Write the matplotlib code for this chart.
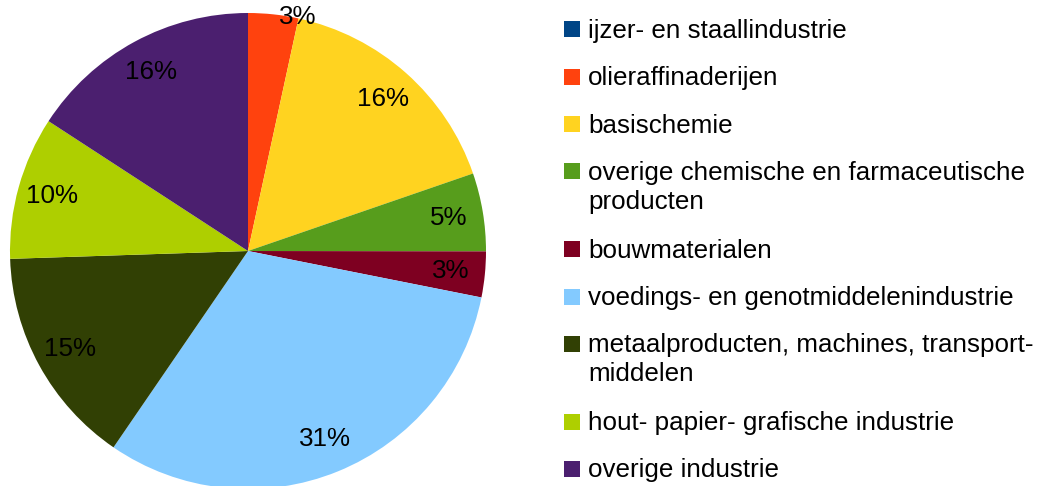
import matplotlib.pyplot as plt
from matplotlib.patches import Rectangle

plt.rcParams['font.family'] = ['Liberation Sans', 'DejaVu Sans']

# data
categorieen = [
    "ijzer- en staallindustrie",
    "olieraffinaderijen",
    "basischemie",
    "overige chemische en farmaceutische\nproducten",
    "bouwmaterialen",
    "voedings- en genotmiddelenindustrie",
    "metaalproducten, machines, transport-\nmiddelen",
    "hout- papier- grafische industrie",
    "overige industrie",
]
aandeel = [0, 3.4, 16.3, 5.3, 3.1, 31.4, 14.9, 9.7, 15.8]
kleuren = ["#004586", "#ff420e", "#ffd320", "#579d1c", "#7e0021",
           "#83caff", "#314004", "#aecf00", "#4b1f6f"]

W, H = 1039, 486
fig = plt.figure(figsize=(W / 100, H / 100), dpi=100)

# taart: middelpunt (248, 251) px, straal 238 px
cx, cy, r = 248, 251, 238
ax = fig.add_axes([(cx - r) / W, (H - cy - r) / H, 2 * r / W, 2 * r / H])
wedges, texts, autotexts = ax.pie(
    aandeel, colors=kleuren, startangle=90, counterclock=False,
    radius=1, pctdistance=0.855,
    autopct=lambda p: f"{p:.0f}%" if p > 0.5 else "",
    wedgeprops=dict(linewidth=0, edgecolor="none"),
    textprops=dict(fontsize=18.7, color="black"),
)
ax.set_xlim(-1, 1)
ax.set_ylim(-1, 1)
# label van olieraffinaderijen staat buiten tegen de rand
autotexts[1].set_position((0.21, 0.985))

# legenda handmatig
lax = fig.add_axes([0, 0, 1, 1])
lax.set_xlim(0, W)
lax.set_ylim(H, 0)
lax.axis("off")

y = 29.5
for naam, kleur in zip(categorieen, kleuren):
    lax.add_patch(Rectangle((564, y - 8), 16, 16, facecolor=kleur, edgecolor="none"))
    regels = naam.split("\n")
    for i, regel in enumerate(regels):
        lax.text(588, y + 8.5 + i * 29, regel, fontsize=18.7, va="baseline", ha="left")
    y += 47.3 + (len(regels) - 1) * 30.5

fig.savefig("out.png", dpi=100)
